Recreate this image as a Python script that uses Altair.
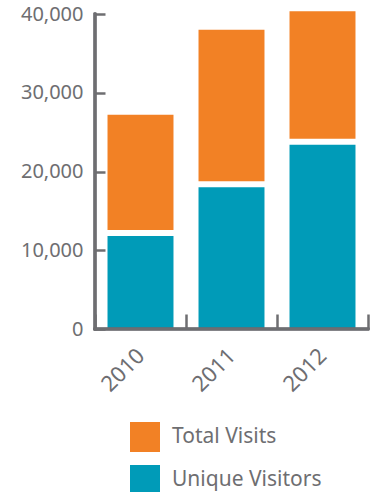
import altair as alt
import pandas as pd

years = ["2010", "2011", "2012"]
unique_visitors = [11800, 18000, 23400]
total_visits = [27200, 38000, 40350]
series_names = ["Total Visits", "Unique Visitors"]
series_colors = ["#F28125", "#009BB8"]
y_ticks = [0, 10000, 20000, 30000, 40000]

rows = []
for yr, u, t in zip(years, unique_visitors, total_visits):
    rows.append({"year": yr, "series": "Total Visits", "value": t, "base": u})
    rows.append({"year": yr, "series": "Unique Visitors", "value": u, "base": 0})
df = pd.DataFrame(rows)

GRAY = "#6E6E71"
FONT = "Noto Sans"
W, H = 273, 315

x_enc = alt.X(
    "year:N",
    sort=years,
    scale=alt.Scale(paddingInner=0, paddingOuter=0),
    axis=alt.Axis(
        title=None, domain=False, offset=-15, tickSize=15, tickWidth=2.5,
        tickColor=GRAY, tickBand="extent", labelAngle=-45, labelAlign="right",
        labelBaseline="middle", labelPadding=23, labelFont=FONT, labelFontSize=22,
        labelColor=GRAY,
    ),
)
y_scale = alt.Scale(domain=[0, 40000], nice=False)
y_axis = alt.Axis(
    title=None, domain=False, offset=-10, tickSize=10, tickWidth=2.5, tickColor=GRAY,
    values=y_ticks, format=",d", labelPadding=12, labelFont=FONT, labelFontSize=20,
    labelColor=GRAY, grid=False,
)
color_enc = alt.Color(
    "series:N",
    scale=alt.Scale(domain=series_names, range=series_colors),
    legend=alt.Legend(
        title=None, orient="none", legendX=35, legendY=408, symbolType="square",
        symbolSize=900, symbolStrokeWidth=0, rowPadding=13, labelOffset=12,
        labelFont=FONT, labelFontSize=21, labelColor=GRAY, labelLimit=300, padding=0,
    ),
)

base = alt.Chart(df)
total_bar = base.transform_filter(alt.datum.series == "Total Visits").mark_bar(
    width=alt.RelativeBandSize(0.725), y2Offset=-6
).encode(
    x=x_enc,
    y=alt.Y("value:Q", scale=y_scale, axis=y_axis),
    y2="base:Q",
    color=color_enc,
)
unique_bar = base.transform_filter(alt.datum.series == "Unique Visitors").mark_bar(
    width=alt.RelativeBandSize(0.725)
).encode(
    x=x_enc,
    y=alt.Y("value:Q", scale=y_scale, axis=y_axis),
    y2="base:Q",
    color=color_enc,
)
y_line = alt.Chart(df).mark_rule(color=GRAY, strokeWidth=2.5, strokeCap="square").encode(
    x=alt.value(0),
    y=alt.Y(datum=40000, type="quantitative", scale=y_scale, axis=y_axis),
    y2=alt.Y2(datum=0),
)
x_line = alt.Chart(df).mark_rule(color=GRAY, strokeWidth=2.5, strokeCap="square").encode(
    x=alt.value(0), x2=alt.value(W),
    y=alt.Y(datum=0, type="quantitative", scale=y_scale, axis=y_axis),
)

chart = alt.layer(total_bar, unique_bar, y_line, x_line).properties(
    width=W, height=H,
    autosize=alt.AutoSizeParams(type="none"),
    padding={"left": 95, "top": 14, "right": 9, "bottom": 163},
).configure_view(stroke=None)

chart.save("out.html", embed_options={"renderer": "svg", "actions": False})
